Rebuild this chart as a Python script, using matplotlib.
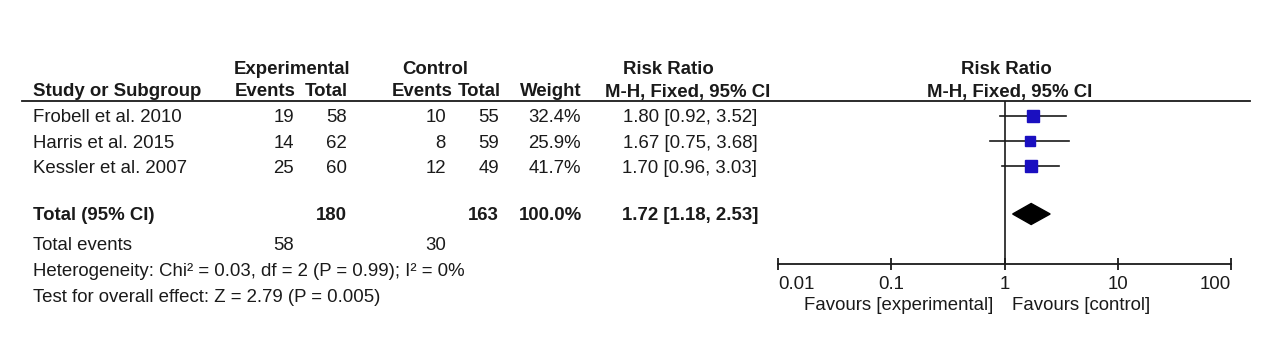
import numpy as np
import matplotlib
matplotlib.use("Agg")
import matplotlib.pyplot as plt
from matplotlib.lines import Line2D
from matplotlib.patches import Polygon

# ---- data ----
studies = ["Frobell et al. 2010", "Harris et al. 2015", "Kessler et al. 2007"]
exp_events = [19, 14, 25]
exp_total = [58, 62, 60]
ctl_events = [10, 8, 12]
ctl_total = [55, 59, 49]
weights = [32.4, 25.9, 41.7]
rr = [1.80, 1.67, 1.70]
ci_low = [0.92, 0.75, 0.96]
ci_high = [3.52, 3.68, 3.03]

total_rr, total_low, total_high = 1.72, 1.18, 2.53
total_exp_n, total_ctl_n = 180, 163
total_exp_ev, total_ctl_ev = 58, 30
heterogeneity = "Heterogeneity: Chi\u00b2 = 0.03, df = 2 (P = 0.99); I\u00b2 = 0%"
overall = "Test for overall effect: Z = 2.79 (P = 0.005)"
axis_ticks = [0.01, 0.1, 1, 10, 100]
tick_labels = ["0.01", "0.1", "1", "10", "100"]

plt.rcParams['font.family'] = ['Liberation Sans', 'DejaVu Sans']
FS = 13.4
TXT = '#1a1a1a'
W, H = 1280, 351

fig = plt.figure(figsize=(12.8, 3.51), dpi=100)


def put(x, y, s, ha='left', bold=False):
    # va='center' includes descenders, nudge down a little
    fig.text(x / W, 1 - (y + 2) / H, s, ha=ha, va='center', fontsize=FS,
             fontweight='bold' if bold else 'normal', color=TXT)


# ---- headers ----
put(292, 67, "Experimental", ha='center', bold=True)
put(435, 67, "Control", ha='center', bold=True)
put(668, 67, "Risk Ratio", ha='center', bold=True)
put(1006, 67, "Risk Ratio", ha='center', bold=True)

row_h = 90
put(33, row_h, "Study or Subgroup", bold=True)
put(296, row_h, "Events", ha='right', bold=True)
put(348, row_h, "Total", ha='right', bold=True)
put(453, row_h, "Events", ha='right', bold=True)
put(501, row_h, "Total", ha='right', bold=True)
put(582, row_h, "Weight", ha='right', bold=True)
put(688, row_h, "M-H, Fixed, 95% CI", ha='center', bold=True)
put(1010, row_h, "M-H, Fixed, 95% CI", ha='center', bold=True)

fig.add_artist(Line2D([22 / W, 1250 / W], [1 - 101 / H] * 2, color=TXT, lw=1.3))

# ---- study rows ----
row_y = [116, 141, 166]
for i, name in enumerate(studies):
    y = row_y[i]
    put(33, y, name)
    put(294, y, str(exp_events[i]), ha='right')
    put(347, y, str(exp_total[i]), ha='right')
    put(446, y, str(ctl_events[i]), ha='right')
    put(499, y, str(ctl_total[i]), ha='right')
    put(581, y, f"{weights[i]:.1f}%", ha='right')
    put(690, y, f"{rr[i]:.2f} [{ci_low[i]:.2f}, {ci_high[i]:.2f}]", ha='center')

# ---- total rows ----
put(33, 214, "Total (95% CI)", bold=True)
put(347, 214, str(total_exp_n), ha='right', bold=True)
put(499, 214, str(total_ctl_n), ha='right', bold=True)
put(582, 214, f"{sum(weights):.1f}%", ha='right', bold=True)
put(690, 214, f"{total_rr:.2f} [{total_low:.2f}, {total_high:.2f}]", ha='center', bold=True)

put(33, 243, "Total events")
put(294, 243, str(total_exp_ev), ha='right')
put(446, 243, str(total_ctl_ev), ha='right')
put(33, 269, heterogeneity)
put(33, 296, overall)

# ---- forest plot ----
x0, x1 = 778, 1231
top, bot = 101, 264
ax = fig.add_axes([x0 / W, 1 - bot / H, (x1 - x0) / W, (bot - top) / H])
ax.set_xscale('log')
ax.set_xlim(axis_ticks[0], axis_ticks[-1])
# rows: 0,1,2 for studies, 3.92 for total (25 px per row)
ax.set_ylim((bot - 116) / 25, (top - 116) / 25)
ax.patch.set_visible(False)
for s in ['top', 'left', 'right']:
    ax.spines[s].set_visible(False)
ax.spines['bottom'].set_linewidth(1.3)
ax.spines['bottom'].set_color(TXT)

ax.axvline(1, color=TXT, lw=1.2)

ys = np.arange(len(studies))
for i in range(len(studies)):
    ax.plot([ci_low[i], ci_high[i]], [ys[i], ys[i]], color=TXT, lw=1.2, zorder=2)
    ms = 2.0 * np.sqrt(weights[i]) * 72 / 100
    ax.plot(rr[i], ys[i], marker='s', ms=ms, color='#1a0fc0',
            markeredgecolor='#1a0fc0', zorder=3)

ty = (214 - 116) / 25
dh = 10.5 / 25
diamond = Polygon([[total_low, ty], [total_rr, ty - dh], [total_high, ty],
                   [total_rr, ty + dh]], closed=True, color='black', zorder=3)
ax.add_patch(diamond)

ax.set_yticks([])
ax.set_xticks(axis_ticks)
ax.xaxis.set_minor_locator(matplotlib.ticker.NullLocator())
ax.set_xticklabels(tick_labels, fontsize=FS, color=TXT)
ax.tick_params(axis='x', direction='inout', length=9, width=1.3, color=TXT, pad=4)
labs = ax.get_xticklabels()
labs[0].set_ha('left')
labs[-1].set_ha('right')

put(993, 303, "Favours [experimental]", ha='right')
put(1012, 303, "Favours [control]", ha='left')

fig.savefig("out.png", dpi=100)
